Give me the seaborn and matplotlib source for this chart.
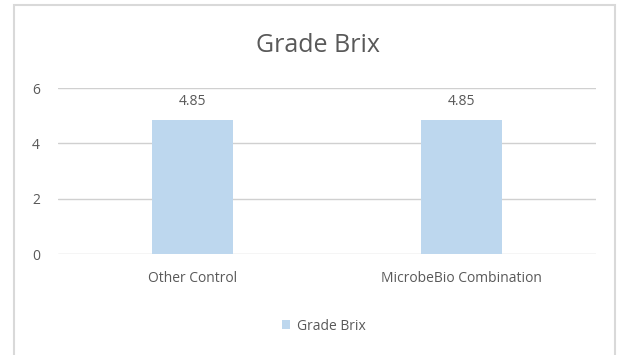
import matplotlib
matplotlib.use("Agg")
import matplotlib.pyplot as plt
import seaborn as sns
import pandas as pd
from matplotlib.patches import Rectangle

categories = ["Other Control", "MicrobeBio Combination"]
values = [4.85, 4.85]
series_name = "Grade Brix"
y_ticks = [0, 2, 4, 6]

sns.set_theme(style="white")
plt.rcParams["font.family"] = ["Open Sans", "DejaVu Sans"]

text_color = "#595959"
bar_color = "#BDD7EE"

df = pd.DataFrame({"category": categories, "value": values, "series": series_name})

W, H = 620, 355
fig = plt.figure(figsize=(W / 100, H / 100), dpi=100)
fig.patch.set_facecolor("white")
# chart frame
fig.patches.append(Rectangle((14 / W, -0.02), (615 - 14) / W, 1 - 5 / H + 0.02,
                             transform=fig.transFigure, fill=False,
                             edgecolor="#d9d9d9", linewidth=1.5))

ax = fig.add_axes([58 / W, 1 - 254 / H, (596 - 58) / W, (254 - 88) / H])
sns.barplot(data=df, x="category", y="value", hue="series", palette=[bar_color],
            saturation=1, width=0.3, linewidth=0, ax=ax, legend=False)

ax.set_ylim(0, 6)
ax.set_yticks(y_ticks)
ax.set_yticklabels([str(t) for t in y_ticks], color=text_color, fontsize=10)
ax.tick_params(axis="y", length=0, pad=13)
ax.tick_params(axis="x", length=0, pad=12, labelsize=10, labelcolor=text_color)
ax.grid(axis="y", color="#d0d0d0", linewidth=1)
ax.set_axisbelow(True)
for s in ax.spines.values():
    s.set_visible(False)
ax.set_xlabel("")
ax.set_ylabel("")

for container in ax.containers:
    ax.bar_label(container, labels=[f"{v:.2f}" for v in values], padding=8,
                 color=text_color, fontsize=10)

fig.text(0.5 + 8 / W, 1 - 46 / H, "Grade Brix", ha="center", va="center",
         fontsize=18, color=text_color)

handle = Rectangle((0, 0), 1, 1, facecolor=bar_color, edgecolor="none")
fig.legend([handle], [series_name], loc="center", bbox_to_anchor=(324 / W, 1 - 326 / H),
           frameon=False, handlelength=0.6, handleheight=0.6, handletextpad=0.5,
           labelcolor=text_color, fontsize=10)

fig.savefig("out.png", dpi=100)
